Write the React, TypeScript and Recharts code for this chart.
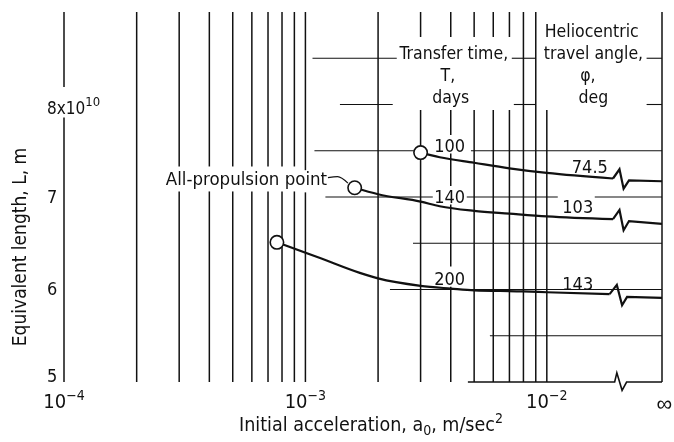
import { ComposedChart, Line, XAxis, YAxis, ReferenceLine, ReferenceDot, Label } from "recharts"

const INK = "#111"
const FONT = "'DejaVu Sans Condensed', 'DejaVu Sans', sans-serif"

// transfer time T (days) and heliocentric travel angle (deg) for each curve
const transferDays = ["100", "140", "200"]
const travelAngle = ["74.5", "103", "143"]

// initial acceleration a0 (m/sec^2) vs equivalent length L (x10^10 m)
const accel100 = [3.0e-3, 3.6e-3, 5.0e-3, 7.0e-3, 1.0e-2, 1.88e-2]
const length100 = [7.48, 7.43, 7.37, 7.31, 7.26, 7.2]
const accel140 = [1.6e-3, 2.0e-3, 3.0e-3, 3.6e-3, 5.0e-3, 7.0e-3, 1.0e-2, 1.88e-2]
const length140 = [7.1, 7.03, 6.95, 6.9, 6.85, 6.82, 6.79, 6.76]
const accel200 = [7.62e-4, 1.15e-3, 1.68e-3, 2.0e-3, 3.0e-3, 4.0e-3, 5.0e-3, 8.0e-3, 1.0e-2, 1.82e-2]
const length200 = [6.51, 6.34, 6.18, 6.12, 6.04, 6.01, 5.99, 5.98, 5.97, 5.95]

// break marks between finite a0 and a0 = infinity
const breakAccel = [0.02, 0.0208, 0.0219, 0.03]
const break100 = [7.3, 7.09, 7.18, 7.17]
const break140 = [6.86, 6.64, 6.74, 6.71]
const breakAccel200 = [0.0195, 0.0205, 0.0215, 0.03]
const break200 = [6.05, 5.83, 5.92, 5.91]
const baseAccel = [4.71e-3, 0.0191, 0.0195, 0.0205, 0.0214, 0.03]
const baseLength = [5, 5, 5.1, 4.91, 5, 5]

// leader from "All-propulsion point" to the 140-day start
const leaderAccel = [1.24e-3, 1.36e-3, 1.5e-3]
const leaderLength = [7.21, 7.22, 7.15]

const INF = 0.03
const xTicks = [1e-4, 1e-3, 1e-2]
const yTicks = [5, 6, 7, 8]

// log grid: acceleration, then the L spans each rule is drawn over
const vRules: [number, number[][]][] = [
  [1e-4, [[5, 7.86], [8.19, 9]]],
  [2e-4, [[5, 9]]],
  [3e-4, [[5, 7.06], [7.33, 9]]],
  [4e-4, [[5, 7.06], [7.33, 9]]],
  [5e-4, [[5, 7.06], [7.33, 9]]],
  [6e-4, [[5, 7.06], [7.33, 9]]],
  [7e-4, [[5, 7.06], [7.33, 9]]],
  [8e-4, [[5, 7.06], [7.33, 9]]],
  [9e-4, [[5, 7.06], [7.33, 9]]],
  [1e-3, [[5, 7.05], [7.29, 9]]],
  [2e-3, [[5, 9]]],
  [3e-3, [[5, 7.94], [8.73, 9]]],
  [4e-3, [[5, 6.03], [6.25, 6.92], [7.12, 7.47], [7.67, 7.94], [8.73, 9]]],
  [5e-3, [[5, 7.94], [8.73, 9]]],
  [6e-3, [[5, 7.94], [8.73, 9]]],
  [7e-3, [[5, 7.94], [8.73, 9]]],
  [8e-3, [[5, 9]]],
  [9e-3, [[5, 9]]],
  [1e-2, [[5, 7.94]]],
  [INF, [[5, 9]]],
]

const hRules: [number, number[][]][] = [
  [8.5, [[1.07e-3, 2.39e-3], [7.16e-3, 9.0e-3], [0.0259, INF]]],
  [8.0, [[1.39e-3, 2.3e-3], [7.3e-3, 9.0e-3], [0.0259, INF]]],
  [7.5, [[1.09e-3, 2.81e-3], [4.85e-3, INF]]],
  [7.0, [[1.21e-3, 3.37e-3], [4.66e-3, 1.11e-2], [0.0158, INF]]],
  [6.5, [[2.79e-3, INF]]],
  [6.0, [[2.24e-3, INF]]],
  [5.5, [[5.81e-3, INF]]],
]

const pts = (xs: number[], ys: number[]) => xs.map((a, i) => ({ a, L: ys[i] }))

const curves = [
  { main: pts(accel100, length100), tail: pts(breakAccel, break100) },
  { main: pts(accel140, length140), tail: pts(breakAccel, break140) },
  { main: pts(accel200, length200), tail: pts(breakAccel200, break200) },
]

function XTick({ x, y, payload }: any) {
  const exp = Math.round(Math.log10(payload.value))
  return (
    <text x={x} y={y + 7.5} textAnchor="middle" fontFamily={FONT} fontSize={20} fill={INK}>
      <tspan>10</tspan>
      <tspan dy={-8} fontSize={14}>{`\u2212${-exp}`}</tspan>
    </text>
  )
}

function YTick({ y, payload }: any) {
  const v = payload.value
  if (v === 8) {
    return (
      <text x={47} y={y + 9} fontFamily={FONT} fontSize={17} fill={INK}>
        <tspan>8x10</tspan>
        <tspan dy={-8} fontSize={13}>10</tspan>
      </text>
    )
  }
  return (
    <text x={47} y={v === 5 ? y : y + 5.5} fontFamily={FONT} fontSize={18} fill={INK}>
      {v}
    </text>
  )
}

function YTitle() {
  return (
    <text transform="rotate(-90)" x={-247} y={26} textAnchor="middle" fontFamily={FONT} fontSize={19} fill={INK}>
      Equivalent length, L, m
    </text>
  )
}

function XTitle() {
  return (
    <text x={371} y={431} textAnchor="middle" fontFamily={FONT} fontSize={19.5} fill={INK}>
      <tspan>Initial acceleration, a</tspan>
      <tspan dy={4} fontSize={14}>0</tspan>
      <tspan dy={-4}>,  m/sec</tspan>
      <tspan dy={-8} fontSize={14}>2</tspan>
    </text>
  )
}

const note = (key: string, a: number, L: number, text: string, anchor = "middle", size = 18, family = FONT) => (
  <ReferenceDot
    key={key}
    x={a}
    y={L}
    r={0}
    fill="none"
    stroke="none"
    ifOverflow="visible"
    label={(p: any) => (
      <text x={p.viewBox.x} y={p.viewBox.y} textAnchor={anchor} fontFamily={family} fontSize={size} fill={INK}>
        {text}
      </text>
    )}
  />
)

const startDot = (p: any) =>
  p.index === 0 ? (
    <circle key={`d${p.index}`} cx={p.cx} cy={p.cy} r={6.7} fill="#fff" stroke={INK} strokeWidth={1.6} />
  ) : (
    <g key={`d${p.index}`} />
  )

export default function App() {
  return (
    // pinned to the page corner so nothing overflows the window
    <div style={{ position: "fixed", left: 0, top: 0, width: 674, height: 442, overflow: "hidden" }}>
      <ComposedChart width={674} height={442} margin={{ top: 12, right: 12, bottom: 0, left: 0 }}>
        <XAxis
          type="number"
          dataKey="a"
          scale="log"
          domain={[1e-4, INF]}
          ticks={xTicks}
          interval={0}
          axisLine={false}
          tickLine={false}
          tickSize={0}
          tickMargin={0}
          height={41.5}
          tick={<XTick />}
        >
          <Label content={<XTitle />} />
        </XAxis>
        <YAxis
          type="number"
          domain={[4.8, 9]}
          ticks={yTicks}
          interval={0}
          axisLine={false}
          tickLine={false}
          tickSize={0}
          tickMargin={0}
          width={64}
          tick={<YTick />}
        >
          <Label content={<YTitle />} />
        </YAxis>

        {vRules.flatMap(([a, spans]) =>
          spans.map(([lo, hi], i) => (
            <ReferenceLine
              key={`v${a}-${i}`}
              segment={[{ x: a, y: lo }, { x: a, y: hi }]}
              stroke={INK}
              strokeWidth={1.5}
              ifOverflow="visible"
            />
          ))
        )}
        {hRules.flatMap(([L, spans]) =>
          spans.map(([lo, hi], i) => (
            <ReferenceLine
              key={`h${L}-${i}`}
              segment={[{ x: lo, y: L }, { x: hi, y: L }]}
              stroke={INK}
              strokeWidth={1.1}
              ifOverflow="visible"
            />
          ))
        )}

        <Line data={pts(baseAccel, baseLength)} dataKey="L" type="linear" stroke={INK} strokeWidth={1.6} dot={false} isAnimationActive={false} />
        <Line data={pts(leaderAccel, leaderLength)} dataKey="L" type="monotone" stroke={INK} strokeWidth={1.2} dot={false} isAnimationActive={false} />

        {curves.map((c, i) => (
          <Line
            key={`t${i}`}
            data={[c.main[c.main.length - 1], ...c.tail]}
            dataKey="L"
            type="linear"
            stroke={INK}
            strokeWidth={2.2}
            dot={false}
            isAnimationActive={false}
          />
        ))}
        {curves.map((c, i) => (
          <Line
            key={`m${i}`}
            data={c.main}
            dataKey="L"
            type="monotone"
            stroke={INK}
            strokeWidth={2.2}
            dot={startDot}
            isAnimationActive={false}
          />
        ))}

        {note("n100", 3.96e-3, 7.49, transferDays[0])}
        {note("n140", 3.96e-3, 6.94, transferDays[1])}
        {note("n200", 3.96e-3, 6.05, transferDays[2])}
        {note("p100", 0.01507, 7.26, travelAngle[0])}
        {note("p140", 0.01343, 6.83, travelAngle[1])}
        {note("p200", 0.01343, 5.99, travelAngle[2])}
        {note("tt1", 4.12e-3, 8.49, "Transfer time,", "middle", 17.5)}
        {note("tt2", 3.89e-3, 8.25, "T,", "middle", 17.5)}
        {note("tt3", 4.0e-3, 8.02, "days", "middle", 17.5)}
        {note("ha1", 0.01535, 8.73, "Heliocentric", "middle", 17.5)}
        {note("ha2", 0.0156, 8.49, "travel angle,", "middle", 17.5)}
        {note("ha3", 0.0148, 8.25, "φ,", "middle", 17.5)}
        {note("ha4", 0.0156, 8.02, "deg", "middle", 17.5)}
        {note("apt", 1.23e-3, 7.13, "All-propulsion point", "end", 18.5)}
        {/* a0 = infinity, just right of the last rule */}
        {note("inf", 0.0307, 4.69, "\u221E", "middle", 22, "'Liberation Sans', sans-serif")}
      </ComposedChart>
    </div>
  )
}
